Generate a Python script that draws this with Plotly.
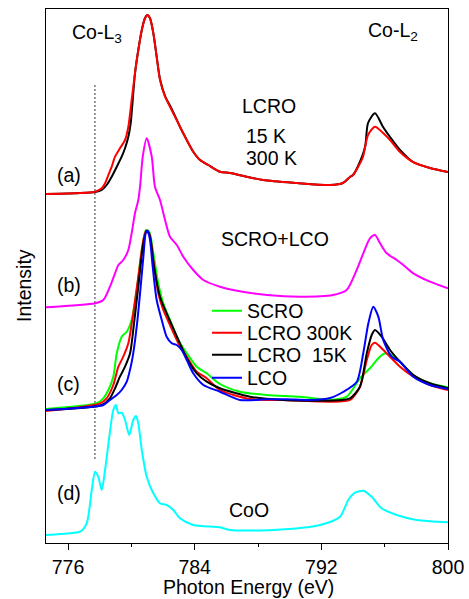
import plotly.graph_objects as go

# ---------------- data (photon energy in eV, intensity in arb. units, stacked) -------------
# (a) LCRO 15 K / 300 K
a_lcro300_x = [774.61, 776.0, 777.71, 778.13, 778.34, 778.55, 778.76, 778.97, 779.28, 779.60,
               779.81, 780.02, 780.23, 780.44, 780.66, 780.86, 781.01, 781.18, 781.39, 781.60,
               781.81, 782.13, 782.44, 782.76, 783.07, 783.50, 783.91, 784.34, 784.86, 785.60,
               786.23, 788.32, 790.46, 792.55, 793.37, 793.81, 794.00, 794.32, 794.63, 794.95,
               795.39, 795.90, 796.34, 796.97, 797.79, 798.86, 800.0]
a_lcro300_y = [3.49, 3.495, 3.513, 3.547, 3.597, 3.68, 3.763, 3.863, 3.947, 4.03,
               4.163, 4.43, 4.697, 4.93, 5.13, 5.247, 5.28, 5.247, 5.097, 4.863,
               4.63, 4.463, 4.363, 4.263, 4.163, 4.03, 3.913, 3.83, 3.78, 3.713,
               3.70, 3.63, 3.60, 3.58, 3.60, 3.66, 3.68, 3.76, 3.86, 4.08,
               4.163, 4.10, 4.03, 3.91, 3.81, 3.75, 3.71]

a_lcro15_x = [774.61, 776.0, 777.71, 778.13, 778.44, 778.76, 779.08, 779.39, 779.60, 779.81,
              779.96, 780.23, 780.44, 780.66, 780.86, 781.01, 781.18, 781.39, 781.60,
              781.81, 782.13, 782.44, 782.76, 783.07, 783.50, 783.91, 784.34, 784.86, 785.60,
              786.23, 788.32, 790.46, 792.55, 793.37, 793.81, 794.00, 794.32, 794.76, 794.95,
              795.39, 795.90, 796.34, 796.97, 797.79, 798.86, 800.0]
a_lcro15_y = [3.49, 3.495, 3.51, 3.53, 3.58, 3.663, 3.763, 3.863, 3.947, 4.063,
              4.20, 4.697, 4.93, 5.13, 5.247, 5.28, 5.247, 5.097, 4.863,
              4.64, 4.47, 4.375, 4.27, 4.163, 4.03, 3.913, 3.83, 3.78, 3.713,
              3.70, 3.63, 3.60, 3.58, 3.60, 3.66, 3.68, 3.77, 3.96, 4.20,
              4.297, 4.16, 4.06, 3.93, 3.81, 3.75, 3.71]

# (b) SCRO+LCO
b_mix_x = [774.61, 777.71, 778.23, 778.65, 778.97, 779.18, 779.49, 779.81, 780.02, 780.23,
           780.44, 780.55, 780.72, 780.97, 781.29, 781.49, 781.81, 782.13, 782.44, 782.87,
           783.28, 783.91, 784.55, 785.60, 786.42, 788.57, 790.65, 792.74, 793.60, 794.23,
           794.65, 795.07, 795.39, 795.71, 796.13, 796.76, 797.18, 797.81, 798.86, 800.0]
b_mix_y = [2.357, 2.397, 2.43, 2.563, 2.697, 2.78, 2.83, 2.93, 3.097, 3.297,
           3.43, 3.563, 3.863, 4.047, 3.863, 3.563, 3.43, 3.23, 3.063, 2.98,
           2.863, 2.73, 2.63, 2.563, 2.53, 2.48, 2.463, 2.48, 2.53, 2.73,
           2.897, 3.047, 3.08, 2.997, 2.897, 2.83, 2.78, 2.697, 2.613, 2.547]

# (c) SCRO, LCRO 300K, LCRO 15K, LCO
c_scro_x = [774.61, 777.81, 778.23, 778.55, 778.86, 779.08, 779.39, 779.71, 780.02, 780.34,
            780.66, 780.93, 781.13, 781.39, 781.70, 782.02, 782.44, 782.97, 783.50, 784.13,
            784.76, 785.60, 786.86, 788.55, 790.65, 792.55, 793.60, 794.44, 795.07, 795.60,
            796.02, 796.44, 796.97, 797.81, 798.86, 800.0]
c_scro_y = [1.34, 1.397, 1.447, 1.53, 1.663, 1.897, 2.063, 2.113, 2.23, 2.53,
            2.93, 3.13, 3.113, 2.897, 2.597, 2.397, 2.23, 2.03, 1.897, 1.763,
            1.697, 1.59, 1.513, 1.48, 1.463, 1.43, 1.463, 1.647, 1.747, 1.847,
            1.897, 1.88, 1.813, 1.68, 1.597, 1.557]

c_lcro300_x = [774.61, 778.02, 778.44, 778.86, 779.18, 779.49, 779.81, 780.12, 780.44, 780.76,
               780.93, 781.13, 781.39, 781.70, 782.02, 782.44, 782.97, 783.50, 784.13, 784.76,
               785.60, 787.50, 789.58, 792.55, 793.81, 794.44, 794.87, 795.18, 795.39, 795.71,
               796.23, 796.97, 797.81, 798.86, 800.0]
c_lcro300_y = [1.32, 1.397, 1.447, 1.58, 1.763, 1.863, 1.997, 2.297, 2.663, 3.03,
               3.123, 3.097, 2.83, 2.497, 2.33, 2.18, 1.997, 1.863, 1.713, 1.647,
               1.53, 1.44, 1.43, 1.413, 1.43, 1.563, 1.83, 1.98, 2.003, 1.963,
               1.88, 1.763, 1.663, 1.58, 1.53]

c_lcro15_x = [774.61, 778.13, 778.65, 778.97, 779.28, 779.60, 779.92, 780.17, 780.44, 780.76,
              780.97, 781.18, 781.43, 781.81, 782.23, 782.65, 783.07, 783.50, 784.13, 784.76,
              785.60, 787.50, 789.58, 792.55, 793.81, 794.44, 794.87, 795.18, 795.39, 795.81,
              796.34, 796.97, 797.81, 798.86, 800.0]
c_lcro15_y = [1.33, 1.38, 1.447, 1.547, 1.663, 1.763, 1.897, 2.197, 2.563, 2.997,
              3.123, 3.063, 2.763, 2.463, 2.297, 2.147, 1.997, 1.847, 1.697, 1.613,
              1.547, 1.463, 1.43, 1.423, 1.447, 1.563, 1.897, 2.08, 2.13, 2.063,
              1.93, 1.813, 1.68, 1.597, 1.547]

c_lco_x = [774.61, 777.60, 778.23, 778.65, 779.08, 779.39, 779.71, 779.96, 780.12, 780.34,
           780.55, 780.76, 780.93, 781.03, 781.18, 781.35, 781.60, 781.92, 782.23, 782.55,
           782.87, 783.18, 783.50, 783.91, 784.55, 785.60, 786.86, 788.55, 789.81, 791.28,
           792.55, 793.37, 794.23, 794.65, 794.97, 795.28, 795.60, 795.91, 796.44, 796.97,
           797.81, 798.86, 800.0]
c_lco_y = [1.33, 1.363, 1.38, 1.43, 1.48, 1.53, 1.613, 1.763, 1.897, 2.163,
           2.497, 2.863, 3.113, 3.123, 3.03, 2.763, 2.43, 2.23, 2.063, 1.997,
           1.98, 1.93, 1.83, 1.697, 1.58, 1.513, 1.43, 1.437, 1.437, 1.43,
           1.45, 1.51, 1.61, 1.90, 2.197, 2.363, 2.263, 2.03, 1.863, 1.813,
           1.663, 1.58, 1.54]

# (d) CoO
d_coo_x = [774.61, 775.49, 776.76, 777.18, 777.50, 777.71, 777.91, 778.13, 778.34, 778.61,
           778.86, 779.03, 779.18, 779.39, 779.60, 779.87, 780.12, 780.30, 780.44, 780.66,
           780.97, 781.39, 781.81, 782.23, 782.65, 783.07, 783.91, 785.60, 786.23, 788.95,
           791.92, 793.18, 793.70, 794.13, 794.65, 795.18, 795.81, 796.76, 798.02, 800.0]
d_coo_y = [0.08, 0.09, 0.113, 0.197, 0.53, 0.713, 0.663, 0.53, 0.73, 1.063,
           1.33, 1.38, 1.297, 1.303, 1.23, 1.08, 1.23, 1.27, 1.197, 0.93,
           0.663, 0.497, 0.397, 0.38, 0.33, 0.247, 0.18, 0.157, 0.13, 0.13,
           0.18, 0.263, 0.43, 0.503, 0.523, 0.463, 0.347, 0.28, 0.23, 0.207]

# guide line at the L3 pre-edge
guide_x = [777.7, 777.7]
guide_y = [0.84, 4.58]

x_range = [774.61, 800.0]
y_range = [0.0, 5.34]
major_ticks = [776, 784, 792, 800]
major_labels = ["776", "784", "792", "800"]
minor_ticks = [780, 788, 796]
top_ticks = [776, 780, 784, 788, 792, 796]

FONT = "Arial, 'Liberation Sans', sans-serif"
FS = 19.5

fig = go.Figure()

def line(x, y, color, name=None, legend=None, width=2.0):
    fig.add_trace(go.Scatter(
        x=x, y=y, mode="lines", name=name,
        line=dict(color=color, width=width, shape="spline", smoothing=0.7),
        showlegend=legend is not None, legend=legend if legend else "legend",
        hoverinfo="skip"))

fig.add_trace(go.Scatter(x=guide_x, y=guide_y, mode="lines", showlegend=False,
                         line=dict(color="#444444", width=1.1, dash="2px,2px"),
                         hoverinfo="skip"))
line(d_coo_x, d_coo_y, "#00ffff")
line(c_scro_x, c_scro_y, "#00ff00", "SCRO", "legend")
line(c_lcro300_x, c_lcro300_y, "#ff0000", "LCRO 300K", "legend2")
line(c_lcro15_x, c_lcro15_y, "#000000", "LCRO\u00a0 15K", "legend3")
line(c_lco_x, c_lco_y, "#0000ff", "LCO", "legend4")
line(b_mix_x, b_mix_y, "#ff00ff")
line(a_lcro15_x, a_lcro15_y, "#000000")
line(a_lcro300_x, a_lcro300_y, "#ff0000")

# plot area in pixels: x 46..448, y 9..543
def px(xp):
    return (xp - 46) / 402.0

def py(yp):
    return (543 - yp) / 534.0

def leg(yp):
    return dict(x=px(207), y=py(yp), xanchor="left", yanchor="middle",
                bgcolor="rgba(0,0,0,0)", font=dict(family=FONT, size=FS, color="black"),
                itemwidth=30, tracegroupgap=0)

ann = []
def text(t, xp, yp, xanchor="left"):
    ann.append(dict(text=t, x=px(xp), y=py(yp), xref="paper", yref="paper",
                    xanchor=xanchor, yanchor="middle", showarrow=False,
                    font=dict(family=FONT, size=FS, color="black")))

text("Co-L<sub>3</sub>", 70, 33)
text("Co-L<sub>2</sub>", 366, 32)
text("LCRO", 240, 106)
text("15 K", 244, 136)
text("300 K", 244, 158)
text("(a)", 55, 175)
text("(b)", 55, 285)
text("(c)", 55, 384)
text("(d)", 55, 493)
text("SCRO+LCO", 219, 239)
text("CoO", 227, 510)
ann.append(dict(text="Intensity", x=px(24), y=py(286), xref="paper", yref="paper",
                xanchor="center", yanchor="middle", textangle=-90, showarrow=False,
                font=dict(family=FONT, size=FS, color="black")))
ann.append(dict(text="Photon Energy (eV)", x=px(248), y=py(587), xref="paper", yref="paper",
                xanchor="center", yanchor="middle", showarrow=False,
                font=dict(family=FONT, size=FS, color="black")))

fig.update_layout(
    template="none",
    width=469, height=599,
    margin=dict(l=46, r=21, t=9, b=56, autoexpand=False),
    paper_bgcolor="white", plot_bgcolor="white",
    font=dict(family=FONT, size=FS, color="black"),
    legend=leg(311), legend2=leg(333), legend3=leg(355), legend4=leg(378),
    annotations=ann,
    xaxis=dict(range=x_range, showline=True, linecolor="black", linewidth=1.3, mirror=True,
               automargin=False,
               showgrid=False, zeroline=False, ticks="outside", ticklen=6, tickwidth=1.3,
               tickcolor="black", tickvals=major_ticks, ticktext=major_labels,
               tickfont=dict(family=FONT, size=FS, color="black"),
               minor=dict(tickvals=minor_ticks, ticks="outside", ticklen=3, tickwidth=1.3,
                          tickcolor="black", showgrid=False)),
    xaxis2=dict(range=x_range, overlaying="x", side="top", anchor="y", showline=False,
                automargin=False,
                showgrid=False, zeroline=False, ticks="inside", ticklen=6, tickwidth=1.3,
                tickcolor="black", tickvals=top_ticks, showticklabels=False),
    yaxis=dict(range=y_range, showline=True, linecolor="black", linewidth=1.3, mirror=True,
               automargin=False,
               showgrid=False, zeroline=False, ticks="", showticklabels=False),
)

fig.write_html("out.html", config={"displayModeBar": False},
               post_script="document.body.style.margin='0';document.body.style.padding='0';"
                           "document.documentElement.style.overflow='hidden';")
